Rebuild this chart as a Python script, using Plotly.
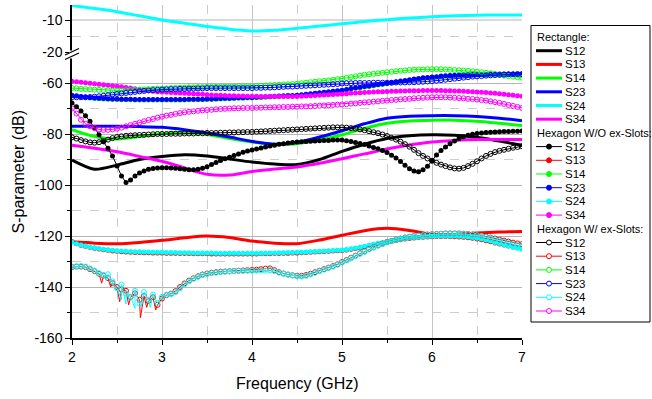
import plotly.graph_objects as go

# ---------------- data ----------------
freq_rect = [2.0, 2.25, 2.5, 2.75, 3.0, 3.25, 3.5, 3.75, 4.0, 4.25, 4.5,
             4.75, 5.0, 5.25, 5.5, 5.75, 6.0, 6.25, 6.5, 6.75, 7.0]
freq_hex = [round(2 + 0.05 * i, 2) for i in range(101)]

rect_s12 = [-90.2, -93.8, -92.2, -90.0, -88.8, -88.1, -88.6, -89.8, -91.0, -91.8, -92.0,
            -90.0, -86.8, -84.0, -81.8, -80.7, -80.3, -80.5, -81.3, -82.8, -84.4]
rect_s13 = [-122.3, -122.8, -123.0, -122.5, -121.7, -120.7, -120.0, -120.6, -122.0, -122.8, -123.0,
            -121.6, -119.7, -117.9, -117.0, -117.8, -119.3, -119.4, -118.8, -118.4, -118.2]
rect_s14 = [-78.3, -81.0, -82.0, -81.0, -79.9, -79.3, -80.2, -81.8, -83.1, -84.0, -83.8,
            -82.3, -80.3, -77.8, -75.8, -74.9, -74.6, -74.6, -75.0, -75.8, -76.7]
rect_s23 = [-77.0, -77.0, -77.0, -77.1, -77.4, -78.3, -79.6, -81.2, -82.9, -84.0, -83.3,
            -81.2, -78.7, -76.0, -73.8, -73.0, -72.8, -72.8, -73.1, -73.8, -74.8]
rect_s24 = [-5.5, -6.4, -7.4, -8.7, -10.0, -11.0, -12.0, -12.9, -13.4, -13.2, -12.6,
            -11.9, -11.2, -10.5, -9.9, -9.4, -9.0, -8.7, -8.5, -8.4, -8.4]
rect_s34 = [-84.4, -85.6, -87.0, -88.8, -90.7, -93.3, -95.8, -96.1, -94.7, -93.7, -92.9,
            -91.5, -89.7, -87.8, -85.9, -84.3, -83.1, -82.5, -82.2, -82.2, -82.2]

wo_s12 = [-67.8, -69.3, -71.0, -72.8, -75.0, -77.6, -80.3, -83.0, -85.6, -88.6,
          -92.5, -96.5, -99.0, -98.0, -96.5, -95.3, -94.5, -93.8, -93.5, -93.3,
          -93.2, -93.2, -93.3, -93.4, -93.6, -93.8, -94.0, -94.0, -93.8, -93.4,
          -92.8, -92.0, -91.2, -90.4, -89.7, -89.1, -88.4, -87.8, -87.2, -86.7,
          -86.3, -85.9, -85.5, -85.1, -84.7, -84.4, -84.0, -83.8, -83.5, -83.3,
          -83.1, -83.0, -82.9, -82.8, -82.7, -82.6, -82.5, -82.5, -82.4, -82.4,
          -82.4, -82.6, -82.9, -83.3, -83.7, -84.1, -84.7, -85.3, -85.8, -86.5,
          -87.3, -88.3, -89.4, -90.8, -92.3, -93.6, -94.5, -94.8, -94.0, -92.6,
          -90.5, -88.2, -86.5, -85.1, -83.8, -82.7, -81.8, -81.1, -80.5, -80.1,
          -79.8, -79.6, -79.4, -79.3, -79.2, -79.1, -79.0, -79.0, -78.9, -78.9,
          -78.8]
wo_s13 = [-122.2, -123.0, -123.6, -124.0, -124.4, -124.8, -125.1, -125.4, -125.6, -125.9,
          -126.0, -126.2, -126.3, -126.4, -126.5, -126.5, -126.6, -126.6, -126.7, -126.7,
          -126.7, -126.8, -126.8, -126.8, -126.9, -126.9, -126.9, -127.0, -127.0, -127.0,
          -127.0, -127.1, -127.1, -127.1, -127.1, -127.1, -127.1, -127.1, -127.1, -127.1,
          -127.1, -127.1, -127.0, -127.0, -127.0, -126.9, -126.9, -126.8, -126.8, -126.7,
          -126.7, -126.6, -126.5, -126.4, -126.3, -126.2, -126.1, -126.0, -125.9, -125.8,
          -125.7, -125.5, -125.2, -124.9, -124.6, -124.2, -123.8, -123.4, -123.0, -122.7,
          -122.4, -122.1, -121.8, -121.5, -121.2, -121.0, -120.8, -120.6, -120.5, -120.4,
          -120.3, -120.2, -120.2, -120.2, -120.2, -120.3, -120.4, -120.5, -120.7, -120.9,
          -121.2, -121.5, -121.9, -122.3, -122.7, -123.1, -123.5, -123.9, -124.3, -124.6,
          -124.9]
wo_s14 = [-65.0, -65.2, -65.5, -65.7, -65.9, -66.1, -66.2, -66.3, -66.4, -66.5,
          -66.5, -66.6, -66.6, -66.6, -66.7, -66.7, -66.7, -66.7, -66.7, -66.7,
          -66.7, -66.7, -66.7, -66.7, -66.7, -66.7, -66.6, -66.6, -66.6, -66.6,
          -66.5, -66.5, -66.4, -66.3, -66.2, -66.2, -66.1, -66.0, -66.0, -65.9,
          -65.9, -65.8, -65.7, -65.6, -65.5, -65.4, -65.3, -65.2, -65.1, -65.1,
          -65.0, -64.8, -64.6, -64.4, -64.2, -64.0, -63.8, -63.6, -63.4, -63.2,
          -63.0, -62.7, -62.4, -62.1, -61.9, -61.6, -61.4, -61.1, -60.8, -60.6,
          -60.3, -60.0, -59.7, -59.4, -59.2, -58.9, -58.6, -58.4, -58.1, -58.0,
          -57.8, -57.7, -57.5, -57.4, -57.3, -57.2, -57.1, -57.0, -56.9, -56.9,
          -56.8, -56.8, -56.8, -56.7, -56.7, -56.7, -56.7, -56.7, -56.7, -56.7,
          -56.7]
wo_s23 = [-64.8, -65.0, -65.3, -65.5, -65.7, -65.9, -66.0, -66.1, -66.2, -66.3,
          -66.3, -66.4, -66.4, -66.4, -66.5, -66.5, -66.5, -66.5, -66.5, -66.5,
          -66.5, -66.5, -66.5, -66.5, -66.5, -66.5, -66.4, -66.4, -66.4, -66.4,
          -66.3, -66.3, -66.2, -66.1, -66.0, -66.0, -65.9, -65.8, -65.8, -65.7,
          -65.7, -65.6, -65.5, -65.4, -65.3, -65.2, -65.1, -65.0, -64.9, -64.9,
          -64.8, -64.6, -64.4, -64.2, -64.0, -63.8, -63.6, -63.4, -63.2, -63.0,
          -62.8, -62.5, -62.2, -61.9, -61.7, -61.4, -61.2, -60.9, -60.6, -60.4,
          -60.1, -59.8, -59.5, -59.2, -59.0, -58.7, -58.4, -58.2, -57.9, -57.8,
          -57.6, -57.5, -57.3, -57.2, -57.1, -57.0, -56.9, -56.8, -56.7, -56.7,
          -56.6, -56.6, -56.6, -56.5, -56.5, -56.5, -56.5, -56.5, -56.5, -56.5,
          -56.5]
wo_s24 = [-122.4, -123.0, -123.5, -123.9, -124.3, -124.6, -124.9, -125.2, -125.4, -125.6,
          -125.8, -125.9, -126.0, -126.1, -126.2, -126.2, -126.3, -126.3, -126.4, -126.4,
          -126.4, -126.5, -126.5, -126.5, -126.6, -126.6, -126.6, -126.7, -126.7, -126.7,
          -126.7, -126.7, -126.8, -126.8, -126.8, -126.8, -126.8, -126.8, -126.8, -126.8,
          -126.8, -126.8, -126.8, -126.7, -126.7, -126.7, -126.6, -126.6, -126.5, -126.5,
          -126.4, -126.4, -126.3, -126.2, -126.1, -126.0, -125.9, -125.8, -125.7, -125.6,
          -125.5, -125.3, -125.0, -124.7, -124.4, -124.0, -123.6, -123.2, -122.8, -122.5,
          -122.2, -121.9, -121.6, -121.3, -121.0, -120.8, -120.6, -120.5, -120.3, -120.2,
          -120.1, -120.0, -120.0, -120.0, -120.0, -120.0, -120.1, -120.2, -120.4, -120.6,
          -120.9, -121.2, -121.6, -122.0, -122.5, -122.9, -123.4, -123.9, -124.4, -124.8,
          -125.2]
wo_s34 = [-59.3, -59.5, -59.7, -59.9, -60.1, -60.3, -60.5, -60.7, -60.9, -61.1,
          -61.3, -61.5, -61.8, -62.0, -62.3, -62.6, -62.8, -63.0, -63.2, -63.4,
          -63.5, -63.6, -63.7, -63.8, -63.9, -64.0, -64.1, -64.2, -64.3, -64.4,
          -64.6, -64.7, -64.8, -64.8, -64.9, -65.0, -65.0, -65.1, -65.1, -65.2,
          -65.2, -65.2, -65.3, -65.3, -65.3, -65.3, -65.3, -65.3, -65.3, -65.3,
          -65.3, -65.2, -65.1, -65.0, -64.9, -64.8, -64.7, -64.6, -64.5, -64.4,
          -64.3, -64.2, -64.0, -63.9, -63.8, -63.7, -63.6, -63.5, -63.4, -63.4,
          -63.3, -63.2, -63.2, -63.1, -63.1, -63.0, -63.0, -63.0, -62.9, -62.9,
          -62.9, -62.9, -62.9, -63.0, -63.0, -63.1, -63.1, -63.2, -63.3, -63.4,
          -63.5, -63.6, -63.7, -63.9, -64.0, -64.2, -64.4, -64.6, -64.8, -65.0,
          -65.2]

w_s12 = [-81.3, -81.8, -82.4, -82.9, -83.3, -83.4, -83.2, -82.8, -82.2, -81.6,
         -81.2, -80.9, -80.7, -80.6, -80.5, -80.4, -80.3, -80.2, -80.1, -80.0,
         -80.0, -80.0, -79.9, -79.9, -79.9, -79.8, -79.8, -79.8, -79.7, -79.7,
         -79.6, -79.6, -79.6, -79.5, -79.5, -79.4, -79.4, -79.3, -79.3, -79.2,
         -79.2, -79.1, -79.0, -78.9, -78.8, -78.7, -78.6, -78.5, -78.4, -78.3,
         -78.2, -78.1, -78.0, -77.9, -77.8, -77.7, -77.6, -77.5, -77.4, -77.4,
         -77.4, -77.5, -77.7, -77.9, -78.2, -78.5, -78.9, -79.3, -79.7, -80.2,
         -80.8, -81.5, -82.2, -83.0, -84.0, -85.0, -86.2, -87.5, -88.6, -89.6,
         -90.5, -91.3, -92.0, -92.6, -93.1, -93.5, -93.6, -93.3, -92.6, -91.7,
         -90.7, -89.6, -88.6, -87.8, -87.1, -86.6, -86.2, -85.8, -85.4, -85.1,
         -84.8]
w_s13 = [-132.2, -132.0, -132.0, -132.2, -133.0, -133.8, -134.8, -135.5, -136.5, -138.5,
         -140.0, -141.0, -141.5, -144.0, -142.5, -145.0, -143.5, -145.5, -144.0, -147.0,
         -144.5, -143.2, -142.6, -141.6, -140.0, -138.6, -137.5, -136.6, -135.8, -135.1,
         -134.7, -134.4, -134.2, -134.0, -133.9, -133.8, -133.7, -133.6, -133.5, -133.4,
         -133.3, -133.2, -133.0, -132.8, -132.7, -133.4, -134.2, -134.7, -135.1, -135.4,
         -135.6, -135.6, -135.3, -134.8, -134.2, -133.6, -133.0, -132.4, -131.8, -131.1,
         -130.2, -129.4, -128.5, -127.7, -126.8, -126.0, -125.1, -124.4, -123.7, -123.0,
         -122.4, -121.9, -121.4, -121.0, -120.6, -120.3, -120.0, -119.8, -119.6, -119.4,
         -119.3, -119.2, -119.1, -119.0, -119.0, -119.0, -119.0, -119.1, -119.2, -119.4,
         -119.6, -119.9, -120.2, -120.6, -121.0, -121.4, -121.8, -122.2, -122.6, -122.9,
         -123.2]
w_s14 = [-62.0, -62.1, -62.3, -62.4, -62.5, -62.6, -62.7, -62.8, -62.9, -63.0,
         -63.0, -63.0, -62.9, -62.8, -62.7, -62.6, -62.5, -62.4, -62.3, -62.2,
         -62.2, -62.1, -62.0, -61.9, -61.9, -61.8, -61.7, -61.7, -61.6, -61.6,
         -61.5, -61.5, -61.5, -61.4, -61.4, -61.4, -61.4, -61.3, -61.3, -61.3,
         -61.3, -61.2, -61.1, -61.0, -60.9, -60.8, -60.7, -60.6, -60.5, -60.4,
         -60.3, -60.1, -59.9, -59.7, -59.5, -59.3, -59.2, -59.0, -58.8, -58.5,
         -58.3, -58.0, -57.7, -57.4, -57.1, -56.8, -56.6, -56.4, -56.2, -56.0,
         -55.8, -55.6, -55.4, -55.2, -55.1, -54.9, -54.8, -54.7, -54.7, -54.6,
         -54.6, -54.6, -54.6, -54.7, -54.8, -54.9, -55.0, -55.1, -55.2, -55.4,
         -55.6, -55.8, -56.0, -56.2, -56.5, -56.8, -57.1, -57.3, -57.5, -57.7,
         -57.9]
w_s23 = [-65.6, -65.6, -65.6, -65.6, -65.5, -65.4, -65.2, -65.0, -64.8, -64.5,
         -64.3, -64.1, -63.9, -63.7, -63.5, -63.3, -63.1, -62.9, -62.8, -62.7,
         -62.6, -62.5, -62.4, -62.4, -62.3, -62.3, -62.2, -62.2, -62.1, -62.1,
         -62.0, -62.0, -62.0, -62.0, -62.0, -62.0, -62.0, -62.0, -62.0, -62.0,
         -62.0, -61.9, -61.9, -61.8, -61.8, -61.7, -61.6, -61.5, -61.4, -61.4,
         -61.3, -61.2, -61.1, -61.0, -60.9, -60.8, -60.7, -60.6, -60.5, -60.4,
         -60.2, -60.1, -60.1, -60.0, -60.0, -60.0, -60.0, -59.9, -59.9, -59.9,
         -59.9, -59.9, -59.8, -59.8, -59.8, -59.7, -59.7, -59.6, -59.5, -59.4,
         -59.3, -59.1, -58.9, -58.7, -58.5, -58.3, -58.1, -57.9, -57.7, -57.5,
         -57.4, -57.3, -57.1, -57.0, -56.9, -56.8, -56.7, -56.6, -56.6, -56.5,
         -56.5]
w_s24 = [-132.0, -131.9, -131.8, -132.0, -132.7, -133.6, -134.6, -135.3, -135.0, -137.8,
         -140.5, -139.0, -142.5, -143.8, -141.5, -146.5, -142.0, -145.0, -143.0, -146.2,
         -143.8, -143.0, -142.8, -142.0, -140.5, -139.0, -137.8, -136.8, -136.0, -135.3,
         -134.9, -134.6, -134.4, -134.2, -134.0, -133.9, -133.8, -133.7, -133.7, -133.6,
         -133.6, -133.6, -133.5, -133.6, -133.4, -133.8, -134.4, -134.8, -135.2, -135.5,
         -135.8, -135.9, -135.6, -135.1, -134.5, -133.8, -133.2, -132.6, -132.0, -131.3,
         -130.4, -129.6, -128.7, -127.9, -127.0, -126.2, -125.3, -124.5, -123.8, -123.1,
         -122.5, -122.0, -121.5, -121.1, -120.7, -120.4, -120.1, -119.9, -119.7, -119.5,
         -119.4, -119.3, -119.2, -119.1, -119.1, -119.1, -119.1, -119.2, -119.3, -119.5,
         -119.7, -120.0, -120.4, -120.8, -121.3, -121.8, -122.3, -122.8, -123.2, -123.6,
         -123.9]
w_s34 = [-70.0, -72.0, -74.4, -76.0, -77.0, -77.7, -78.2, -78.4, -78.4, -78.2,
         -77.9, -77.5, -77.0, -76.5, -76.0, -75.5, -75.0, -74.5, -74.1, -73.6,
         -73.2, -72.8, -72.5, -72.1, -71.8, -71.5, -71.3, -71.1, -70.9, -70.7,
         -70.6, -70.5, -70.3, -70.2, -70.1, -70.0, -69.9, -69.9, -69.8, -69.8,
         -69.8, -69.7, -69.7, -69.6, -69.6, -69.5, -69.5, -69.4, -69.4, -69.3,
         -69.3, -69.2, -69.2, -69.1, -69.0, -68.9, -68.8, -68.7, -68.6, -68.5,
         -68.4, -68.3, -68.1, -68.0, -67.8, -67.6, -67.5, -67.3, -67.2, -67.0,
         -66.9, -66.7, -66.6, -66.4, -66.3, -66.2, -66.0, -65.9, -65.8, -65.7,
         -65.6, -65.6, -65.6, -65.6, -65.7, -65.8, -65.9, -66.0, -66.2, -66.3,
         -66.5, -66.7, -66.9, -67.2, -67.5, -67.8, -68.2, -68.6, -69.0, -69.4,
         -69.8]

# noise spikes in the dense measurement lines (between marker points)
w_s13_spike_f = [2.33, 2.43, 2.53, 2.63, 2.76, 2.83, 2.93]
w_s13_spike_v = [-138.5, -140.0, -145.8, -147.0, -152.0, -148.0, -149.0]
w_s24_spike_f = [2.38, 2.48, 2.55, 2.60, 2.70, 2.77, 2.87]
w_s24_spike_v = [-137.5, -141.0, -145.0, -146.7, -148.4, -147.5, -148.0]

series_names = ["S12", "S13", "S14", "S23", "S24", "S34"]
colors = ["#000000", "#ff0000", "#00ff00", "#0000ff", "#00ffff", "#ff00ff"]
group_titles = ["Rectangle:", "Hexagon W/O ex-Slots:", "Hexagon W/ ex-Slots:"]

rect_data = [rect_s12, rect_s13, rect_s14, rect_s23, rect_s24, rect_s34]
wo_data = [wo_s12, wo_s13, wo_s14, wo_s23, wo_s24, wo_s34]
w_data = [w_s12, w_s13, w_s14, w_s23, w_s24, w_s34]

# ---------------- geometry (pixels) ----------------
W, H = 652, 399
L, R, T, B = 72, 522, 5, 338
BREAK = 55.5


def px(x):
    return (x - L) / (R - L)


def py(y):
    return (B - y) / (B - T)


fig = go.Figure()

# Rectangle
for name, col, vals in zip(series_names, colors, rect_data):
    fig.add_trace(go.Scatter(
        x=freq_rect, y=vals, mode="lines",
        line=dict(color=col, width=3, shape="spline", smoothing=0.8),
        yaxis="y2" if name == "S24" else "y", showlegend=False, hoverinfo="skip"))

# Hexagon W/O (filled markers)
for name, col, vals in zip(series_names, colors, wo_data):
    fig.add_trace(go.Scatter(
        x=freq_hex, y=vals, mode="lines+markers",
        line=dict(color=col, width=1),
        marker=dict(symbol="circle", size=5, color=col, line=dict(width=0)),
        showlegend=False, hoverinfo="skip"))

# Hexagon W/ (open markers)
for name, col, vals in zip(series_names, colors, w_data):
    if name in ("S13", "S24"):
        sf = w_s13_spike_f if name == "S13" else w_s24_spike_f
        sv = w_s13_spike_v if name == "S13" else w_s24_spike_v
        pts = sorted(list(zip(freq_hex, vals)) + list(zip(sf, sv)))
        fig.add_trace(go.Scatter(
            x=[p[0] for p in pts], y=[p[1] for p in pts], mode="lines",
            line=dict(color=col, width=1), showlegend=False, hoverinfo="skip"))
        fig.add_trace(go.Scatter(
            x=freq_hex, y=vals, mode="markers",
            marker=dict(symbol="circle-open", size=5, color=col, line=dict(width=1)),
            showlegend=False, hoverinfo="skip"))
    else:
        fig.add_trace(go.Scatter(
            x=freq_hex, y=vals, mode="lines+markers",
            line=dict(color=col, width=1),
            marker=dict(symbol="circle-open", size=5, color=col, line=dict(width=1)),
            showlegend=False, hoverinfo="skip"))

# ---------------- axes ----------------
FONT = "Liberation Sans, Arial, sans-serif"
split = (B - BREAK) / (B - T)
bot_top = -60 + (83 - BREAK) / 2.55
top_bot = -20 - (BREAK - 52) / 3.2
top_top = -10 + (20 - T) / 3.2

fig.update_layout(
    width=W, height=H, autosize=False,
    margin=dict(l=L, r=W - R, t=T, b=H - B),
    paper_bgcolor="white", plot_bgcolor="white",
    font=dict(family=FONT, size=14, color="black"),
    xaxis=dict(range=[2, 7], tickvals=[2, 3, 4, 5, 6, 7], ticktext=["2", "3", "4", "5", "6", "7"],
               showline=True, linecolor="black", linewidth=1.5,
               ticks="outside", ticklen=5, tickwidth=1.2, tickcolor="black",
               showgrid=True, gridcolor="#c4c4c4", gridwidth=1, zeroline=False,
               minor=dict(tickvals=[2.5, 3.5, 4.5, 5.5, 6.5], ticks="outside", ticklen=3,
                          tickcolor="black", showgrid=True, gridcolor="#cccccc", griddash="dash"),
               tickfont=dict(size=14), anchor="y", automargin=False),
    yaxis=dict(domain=[0, split], range=[-160, bot_top],
               tickvals=[-60, -80, -100, -120, -140, -160],
               ticktext=["-60", "-80", "-100", "-120", "-140", "-160"],
               showline=True, linecolor="black", linewidth=1.5,
               ticks="outside", ticklen=5, tickwidth=1.2, tickcolor="black",
               showgrid=True, gridcolor="#b4b4b4", gridwidth=1, zeroline=False,
               minor=dict(tickvals=[-70, -90, -110, -130, -150], ticks="outside", ticklen=3,
                          tickcolor="black", showgrid=True, gridcolor="#cccccc", griddash="dash"),
               tickfont=dict(size=14), anchor="x", automargin=False),
    yaxis2=dict(domain=[split, 1], range=[top_bot, top_top],
                tickvals=[-10, -20], ticktext=["-10", "-20"],
                showline=True, linecolor="black", linewidth=1.5,
                ticks="outside", ticklen=5, tickwidth=1.2, tickcolor="black",
                showgrid=False, zeroline=False,
                minor=dict(tickvals=[-15], ticks="outside", ticklen=3, tickcolor="black",
                           showgrid=True, gridcolor="#cccccc", griddash="dash"),
                tickfont=dict(size=14), anchor="x", automargin=False),
)

shapes = []
# top segment major grid line at -10
shapes.append(dict(type="line", xref="paper", yref="y2", x0=0, x1=1, y0=-10, y1=-10,
                   line=dict(color="#b4b4b4", width=1), layer="below"))
# axis break: gap + two slashes
shapes.append(dict(type="rect", xref="paper", yref="paper", x0=px(69), x1=px(75),
                   y0=py(58.5), y1=py(50.5), fillcolor="white", line=dict(width=0)))
for dy in (0, 4.5):
    shapes.append(dict(type="line", xref="paper", yref="paper",
                       x0=px(65), y0=py(55 + dy), x1=px(79), y1=py(48.5 + dy),
                       line=dict(color="black", width=1.3)))

# legend box
shapes.append(dict(type="rect", xref="paper", yref="paper", x0=px(531), x1=px(650),
                   y0=py(322), y1=py(25.5), line=dict(color="black", width=1),
                   fillcolor="white"))

annotations = []
row_y0, row_dy = 37.0, 13.7
LEG_FONT = 11
row = 0
for g, title in enumerate(group_titles):
    y = row_y0 + row * row_dy
    annotations.append(dict(text=title, xref="paper", yref="paper", x=px(535), y=py(y),
                            xanchor="left", yanchor="middle", showarrow=False,
                            font=dict(size=LEG_FONT, family=FONT, color="black")))
    row += 1
    for name, col in zip(series_names, colors):
        y = row_y0 + row * row_dy
        shapes.append(dict(type="line", xref="paper", yref="paper", x0=px(536), x1=px(562),
                           y0=py(y), y1=py(y),
                           line=dict(color=col, width=3 if g == 0 else 1)))
        if g > 0:
            r = 2.5
            shapes.append(dict(type="circle", xref="paper", yref="paper",
                               x0=px(549 - r), x1=px(549 + r), y0=py(y + r), y1=py(y - r),
                               fillcolor=col if g == 1 else "white",
                               line=dict(color=col, width=1)))
        annotations.append(dict(text=name, xref="paper", yref="paper", x=px(563), y=py(y),
                                xanchor="left", yanchor="middle", showarrow=False,
                                font=dict(size=LEG_FONT + 0.5, family=FONT, color="black")))
        row += 1

annotations.append(dict(text="S-parameter (dB)", xref="paper", yref="paper",
                        x=px(18), y=py(171.5), textangle=-90, showarrow=False,
                        xanchor="center", yanchor="middle",
                        font=dict(size=16, family=FONT, color="black")))
annotations.append(dict(text="Frequency (GHz)", xref="paper", yref="paper",
                        x=px(297), y=py(383), showarrow=False,
                        xanchor="center", yanchor="middle",
                        font=dict(size=16, family=FONT, color="black")))

fig.update_layout(shapes=shapes, annotations=annotations)
fig.write_html("out.html", config={"displayModeBar": False},
               post_script="document.body.style.margin='0px';document.body.style.overflow='hidden';")
